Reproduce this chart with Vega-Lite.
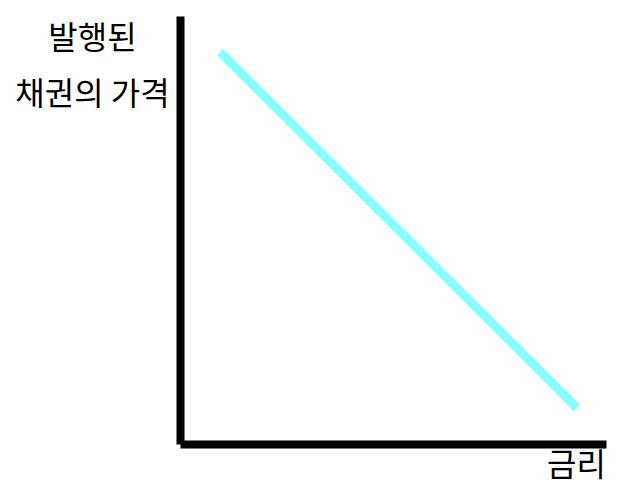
{
  "$schema": "https://vega.github.io/schema/vega-lite/v6.json",
  "width": 426,
  "height": 428,
  "autosize": {"type": "none"},
  "padding": {"left": 180, "top": 16, "right": 19, "bottom": 53},
  "background": "white",
  "config": {"view": {"stroke": null}},
  "data": {"values": [
    {"rate": 9.4, "price": 91.6},
    {"rate": 93.2, "price": 8.4}
  ]},
  "mark": {"type": "line", "color": "#88FFFF", "strokeWidth": 9, "strokeCap": "butt"},
  "encoding": {
    "x": {
      "field": "rate", "type": "quantitative",
      "scale": {"domain": [0, 100], "nice": false, "zero": false},
      "axis": {
        "title": "금리",
        "ticks": false, "labels": false, "grid": false,
        "domainColor": "black", "domainWidth": 8,
        "titleFont": "Noto Sans CJK KR", "titleFontSize": 32, "titleFontWeight": "normal",
        "titleColor": "black",
        "titleAngle": 0, "titleAlign": "center", "titleBaseline": "top",
        "titleX": 396, "titleY": 6
      }
    },
    "y": {
      "field": "price", "type": "quantitative",
      "scale": {"domain": [0, 100], "nice": false, "zero": false},
      "axis": {
        "title": ["발행된", "채권의 가격"],
        "ticks": false, "labels": false, "grid": false,
        "domainColor": "black", "domainWidth": 8,
        "titleFont": "Noto Sans CJK KR", "titleFontSize": 32, "titleFontWeight": "normal",
        "titleColor": "black", "titleLineHeight": 56,
        "titleAngle": 0, "titleAlign": "center", "titleBaseline": "top",
        "titleX": -88, "titleY": 7
      }
    }
  }
}
